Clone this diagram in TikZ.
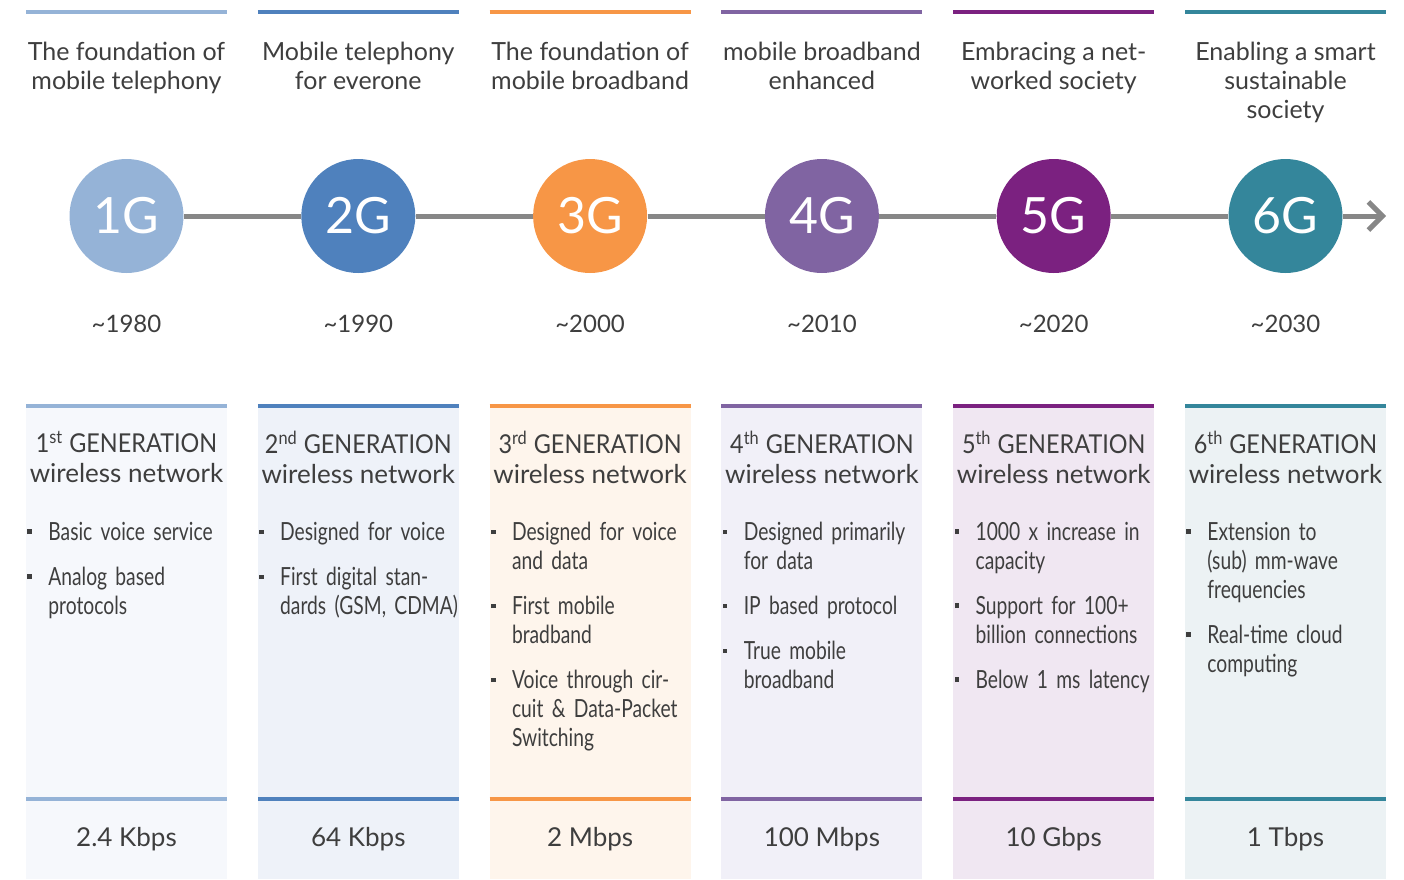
\documentclass[tikz,border=0pt]{standalone}
\usepackage{fontspec}
\setmainfont{Lato}
\newfontfamily\narrowfont[FakeStretch=0.77,WordSpace=0.75]{Lato}
\newfontfamily\capsfont[FakeStretch=0.9]{Lato}
\usetikzlibrary{positioning}
\usetikzlibrary{arrows.meta}

\definecolor{gen1}{HTML}{95B3D7}
\definecolor{gen2}{HTML}{4F81BD}
\definecolor{gen3}{HTML}{F79646}
\definecolor{gen4}{HTML}{8064A2}
\definecolor{gen5}{HTML}{7B2180}
\definecolor{gen6}{HTML}{34869B}
\definecolor{pale1}{HTML}{F6F8FC}
\definecolor{pale2}{HTML}{EEF2F9}
\definecolor{pale3}{HTML}{FEF5EC}
\definecolor{pale4}{HTML}{F1F0F8}
\definecolor{pale5}{HTML}{F0E7F2}
\definecolor{pale6}{HTML}{ECF2F4}
\definecolor{textgray}{HTML}{3E3E3E}
\definecolor{linegray}{HTML}{878787}

% one bullet item, \\ breaks the line inside the item
\newcommand{\bul}[1]{{\let\\\newline\noindent\hangindent=10.5pt\hangafter=1\makebox[10.5pt][l]{\rule[3.3pt]{2.3pt}{2.3pt}}#1\par}}
% generation title
\newcommand{\gen}[2]{{\capsfont #1\textsuperscript{#2} GENERATION}\\wireless network}

\begin{document}
\begin{tikzpicture}[x=0.5pt,y=-0.5pt,
    toptext/.style={font=\fontsize{12.5}{14.5}\selectfont,text=textgray,align=center,inner sep=0pt,anchor=north},
    gencircle/.style={circle,minimum size=57pt,inner sep=0pt,text=white,font=\fontsize{25}{25}\selectfont},
    year/.style={font=\fontsize{12}{14}\selectfont,text=textgray,inner sep=0pt,anchor=base},
    gentitle/.style={font=\fontsize{13}{15}\selectfont,text=textgray,align=center,inner sep=0pt,anchor=north},
    bullets/.style={font=\narrowfont\fontsize{12.5}{14.5}\selectfont,text=textgray,text width=120pt,align=left,inner sep=0pt,anchor=north west},
    speed/.style={font=\fontsize{13}{15}\selectfont,text=textgray,inner sep=0pt,anchor=base}]
    \useasboundingbox (0,0) rectangle (1404,879);

    \foreach \i/\toptxt/\yr/\gtitle/\items/\rate in {
        1/{The foundation of\\mobile telephony}/1980/{\gen{1}{st}}/{\bul{Basic voice service}\bul{Analog based\\protocols}}/{2.4 Kbps},
        2/{Mobile telephony\\for everone}/1990/{\gen{2}{nd}}/{\bul{Designed for voice}\bul{First digital stan-\\dards (GSM, CDMA)}}/{64 Kbps},
        3/{The foundation of\\mobile broadband}/2000/{\gen{3}{rd}}/{\bul{Designed for voice\\and data}\bul{First mobile\\bradband}\bul{Voice through cir-\\cuit \& Data-Packet\\Switching}}/{2 Mbps},
        4/{mobile broadband\\enhanced}/2010/{\gen{4}{th}}/{\bul{Designed primarily\\for data}\bul{IP based protocol}\bul{True mobile\\broadband}}/{100 Mbps},
        5/{Embracing a net-\\worked society}/2020/{\gen{5}{th}}/{\bul{1000 x increase in\\capacity}\bul{Support for 100+\\billion connections}\bul{Below 1 ms latency}}/{10 Gbps},
        6/{Enabling a smart\\sustainable\\society}/2030/{\gen{6}{th}}/{\bul{Extension to\\(sub) mm-wave\\frequencies}\bul{Real-time cloud\\computing}}/{1 Tbps}} {
        \pgfmathsetmacro{\L}{26+231.8*(\i-1)}
        \pgfmathsetmacro{\C}{\L+100.5}
        % top part
        \draw[gen\i,line width=2pt] (\L,12) -- (\L+201,12);
        \node[toptext] (top\i) at (\C,42) {\toptxt};
        \node[gencircle,fill=gen\i] (g\i) at (\C,216) {\i G};
        \node[year] (year\i) at (\C,332) {\textasciitilde\yr};
        % lower panel
        \fill[pale\i] (\L,408) rectangle (\L+201,879);
        \draw[gen\i,line width=2pt] (\L,406) -- (\L+201,406);
        \draw[gen\i,line width=2pt] (\L,799) -- (\L+201,799);
        \node[gentitle] (title\i) at (\C,431) {\gtitle};
        \node[bullets] (list\i) at (\L+1,522) {\setlength{\parskip}{8pt}\items};
        \node[speed] (rate\i) at (\C,846) {\rate};
    }

    \coordinate (tip) at (1386,216);
    \path[draw=linegray,line width=2.5pt]
        (g1) edge (g2)
        (g2) edge (g3)
        (g3) edge (g4)
        (g4) edge (g5)
        (g5) edge (g6)
        (g6) edge[-{Straight Barb[length=7pt,width=14pt]}] (tip);
\end{tikzpicture}
\end{document}
